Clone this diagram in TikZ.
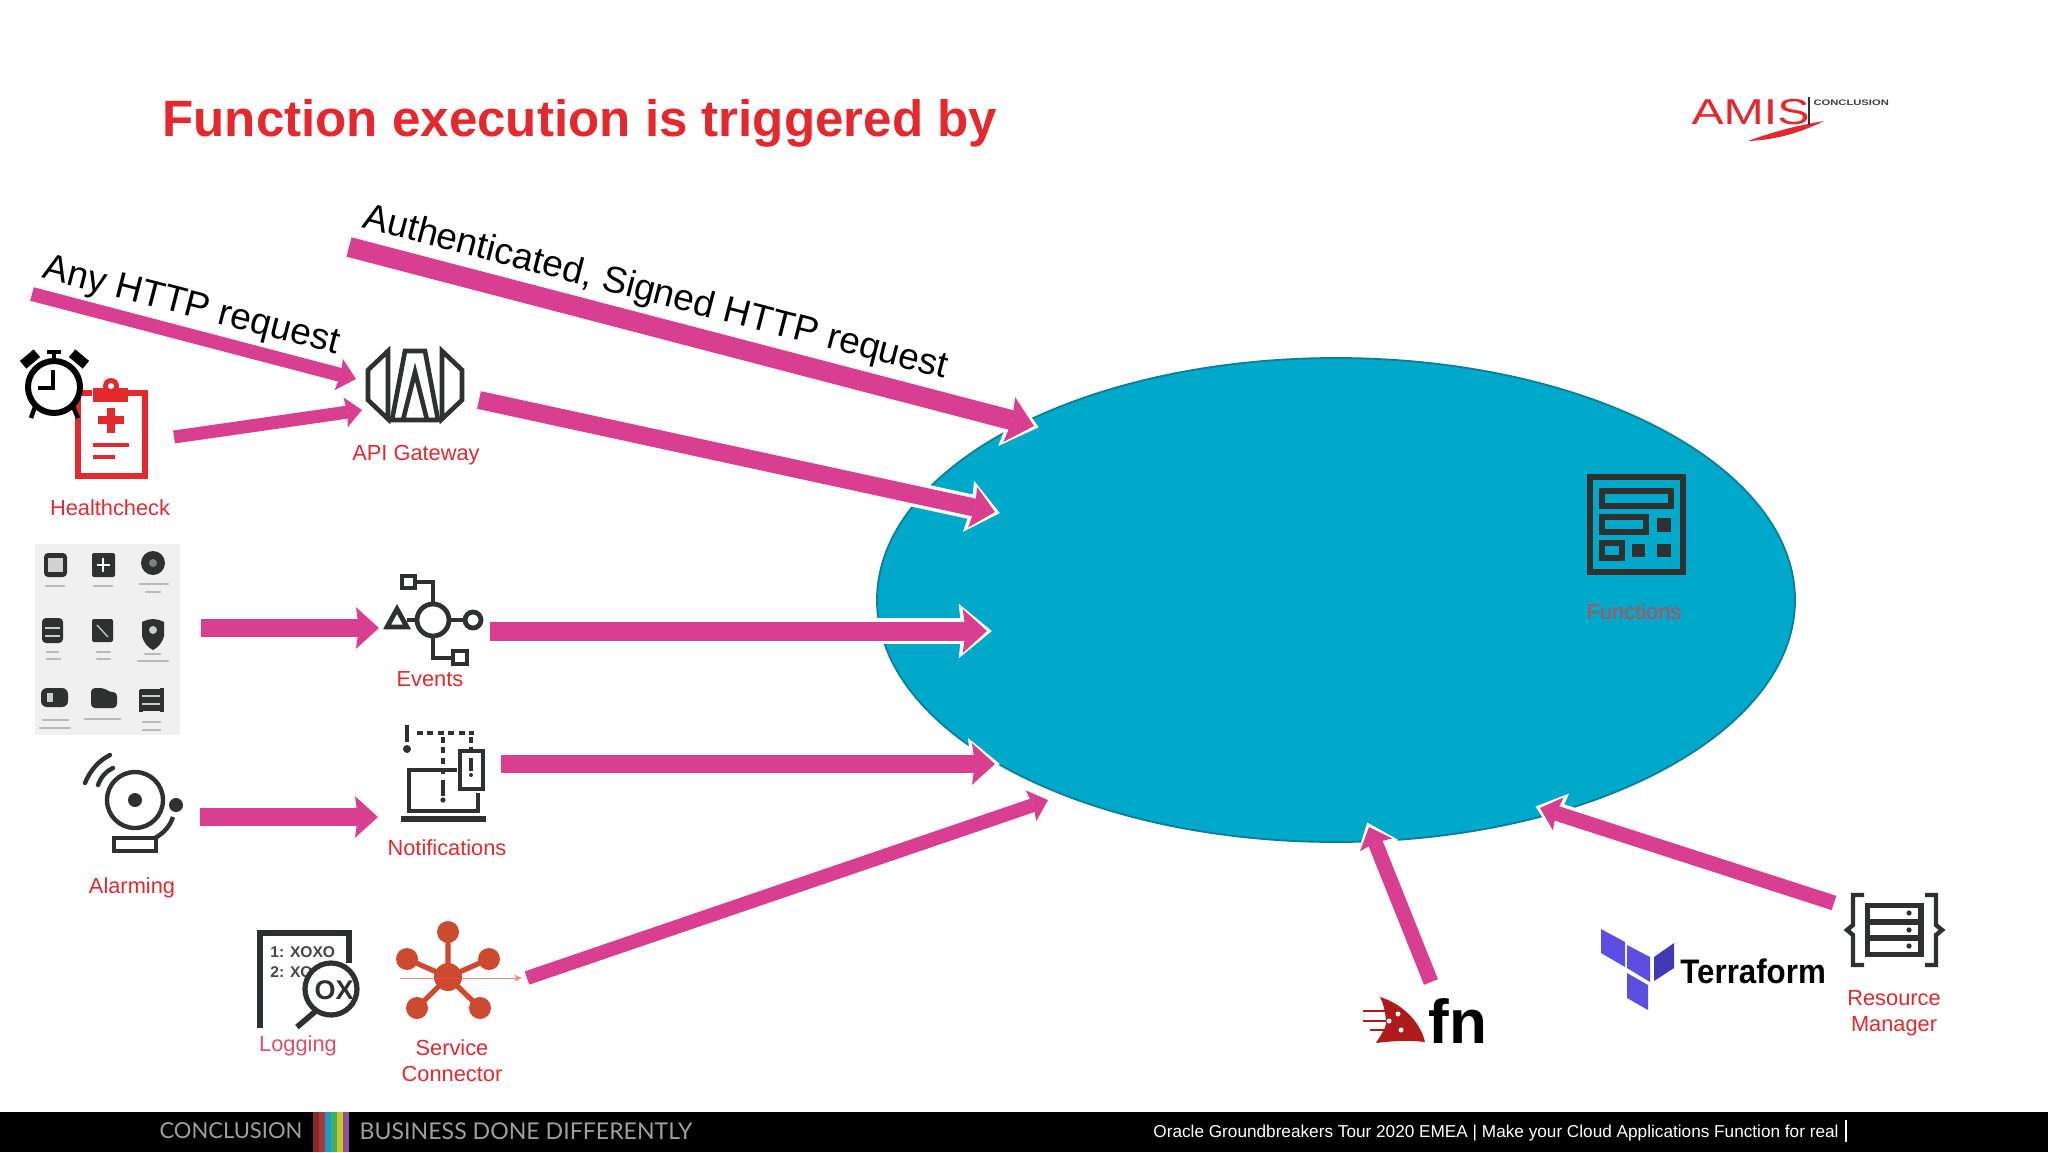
\documentclass[tikz,border=0pt]{standalone}
\usepackage{fontspec}
\setmainfont{Liberation Sans}
\newfontfamily\lato{Lato}
\usetikzlibrary{arrows.meta,shapes.geometric}
\definecolor{pinkc}{HTML}{D93F90}
\definecolor{tealc}{HTML}{00A9C9}
\definecolor{tealb}{HTML}{0A7F96}
\definecolor{redc}{HTML}{E3282E}
\definecolor{darkc}{HTML}{2F3030}
\definecolor{netc}{HTML}{CC4A30}
\definecolor{tfa}{HTML}{5B4EE0}
\definecolor{tfb}{HTML}{4338B8}
\definecolor{fnred}{HTML}{B01A1A}
\definecolor{funclab}{HTML}{C9474F}
\definecolor{loglab}{HTML}{D94F6C}
\definecolor{ba}{HTML}{8A2B2B}
\definecolor{bb}{HTML}{A83A3A}
\definecolor{bc}{HTML}{1E9AC8}
\definecolor{bd}{HTML}{3FB06A}
\definecolor{be}{HTML}{C8C820}
\definecolor{bf}{HTML}{8A4FA0}
\newcommand\conn[3]{% from, to, shaft width in px
 \pgfmathsetmacro\wa{#3*0.5}\pgfmathsetmacro\ll{#3*0.64}\pgfmathsetmacro\ww{#3*1.16}\pgfmathsetmacro\ii{#3*0.08}
 \pgfmathsetmacro\wb{\wa+3.4}\pgfmathsetmacro\lb{\ll+4.4}\pgfmathsetmacro\wwb{\ww+5.2}
 \draw[white,line width=\wb pt,shorten >=-2.4pt,-{Stealth[length=\lb pt,width=\wwb pt,inset=\ii pt,line width=0pt]}] (#1) -- (#2);
 \draw[pinkc,line width=\wa pt,-{Stealth[length=\ll pt,width=\ww pt,inset=\ii pt,line width=0pt]}] (#1) -- (#2);
}
\tikzset{
 lab/.style={text=redc,font=\fontsize{10.9}{13}\selectfont,align=center,inner sep=0pt},
 ic/.style={draw=darkc,line width=2.4pt,line join=miter},
 net/.style={fill=netc,draw=none},
 netl/.style={draw=netc,line width=2.6pt},
 rtxt/.style={text=black,font=\fontsize{18.5}{22}\selectfont,inner sep=0pt,rotate=-14.5,anchor=base},
 smudge/.style={draw=gray!55,line width=1.3pt,line cap=round},
}
\begin{document}
\begin{tikzpicture}[x=0.5pt,y=-0.5pt]
\useasboundingbox (0,0) rectangle (2048,1152);
\fill[white] (0,0) rectangle (2048,1152);

% title
\node[anchor=base west,inner sep=0pt,text=redc,font=\bfseries\fontsize{25.55}{30}\selectfont] (title) at (162,136) {Function execution is triggered by};

% AMIS logo
\node[anchor=base west,inner sep=0pt,text=redc,font=\fontsize{18}{20}\selectfont,xscale=1.34,transform shape] (amis) at (1691,124) {AMIS};
\fill[redc] (1748,141) .. controls (1775,140) and (1800,133) .. (1824,121) .. controls (1800,125) and (1775,131) .. (1748,141) -- cycle;
\draw[darkc,line width=.7pt] (1809,97) -- (1809,125);
\node[anchor=base west,inner sep=0pt,text=black!75,font=\bfseries\fontsize{4}{5}\selectfont,xscale=1.4,transform shape] (amissub) at (1813,105) {CONCLUSION};

% central ellipse
\node[ellipse,draw=tealb,fill=tealc,line width=.9pt,minimum width=459pt,minimum height=242pt,inner sep=0pt] (core) at (1336,600) {};

% Functions icon
\draw[ic,line width=3.2pt] (1590,477) rectangle (1683,572);
\draw[ic,line width=2.8pt] (1602,491) rectangle (1671,506);
\draw[ic,line width=2.8pt] (1602,517) rectangle (1646,532);
\draw[ic,line width=2.8pt] (1602,543) rectangle (1622,558);
\fill[darkc] (1657,518) rectangle (1671,532);
\fill[darkc] (1632,544) rectangle (1645,557);
\fill[darkc] (1657,544) rectangle (1671,557);
\node[lab,text=funclab] (lfunctions) at (1634,612) {Functions};

% clipboard and clock
\draw[redc,line width=2.6pt] (92,393) -- (78,393) -- (78,476) -- (145,476) -- (145,393) -- (128,393);
\fill[redc] (93,388) rectangle (128,402);
\fill[redc] (111,386) circle (8);
\fill[white] (111,386) circle (3);
\fill[redc] (107,408) rectangle (115,433);
\fill[redc] (98,416) rectangle (124,424);
\draw[redc,line width=2.4pt] (93,445) -- (129,445);
\draw[redc,line width=2.4pt] (93,457) -- (115,457);
\fill[black,rotate around={40:(30,359)}] (21,354) rectangle (39,364);
\fill[black,rotate around={-40:(79,359)}] (70,354) rectangle (88,364);
\draw[black,line width=2.4pt] (47,352) -- (61,352) (54,352) -- (54,362);
\draw[black,line width=2.2pt] (36,404) -- (31,418) (72,404) -- (78,418);
\draw[black,fill=white,line width=3pt] (54,387) circle (26);
\draw[black,line width=2.2pt] (53,370) -- (53,388) -- (38,388);

\node[lab] (lhealth) at (110,508) {Healthcheck};

% API gateway icon
\begin{scope}[ic,fill=none,line width=2.3pt]
\draw (388,351) -- (368,370) -- (368,400) -- (388,419) -- cycle;
\draw (442,351) -- (462,370) -- (462,400) -- (442,419) -- cycle;
\draw (392,420) -- (405,351) -- (425,351) -- (438,420) -- cycle;
\draw (403,420) -- (415,372) -- (427,420);
\end{scope}
\node[lab] (lapi) at (416,455) {API Gateway};

% services grid image
\fill[gray!12!white] (35,544) rectangle (180,735);
\fill[darkc,rounded corners=2pt] (44,553) rectangle (67,577);
\fill[gray!35] (48,558) rectangle (63,572);
\fill[darkc,rounded corners=1pt] (92,553) rectangle (115,577);
\draw[white,line width=.7pt] (97,565) -- (110,565) (103,558) -- (103,572);
\fill[darkc] (153,563) circle (12);
\fill[gray] (153,563) circle (4);
\fill[darkc,rounded corners=2pt] (42,618) rectangle (63,643);
\draw[gray!40,line width=1pt] (45,628) -- (60,628) (45,636) -- (60,636);
\fill[darkc,rounded corners=1pt] (92,619) rectangle (113,642);
\draw[gray!50,line width=.7pt] (97,625) -- (108,637);
\fill[darkc] (142,622) .. controls (150,618) and (156,618) .. (164,622) -- (164,636) .. controls (162,644) and (157,648) .. (153,650) .. controls (149,648) and (144,644) .. (142,636) -- cycle;
\fill[gray!40] (153,630) circle (4);
\fill[darkc,rounded corners=3pt] (41,688) rectangle (68,707);
\fill[gray!40] (47,693) rectangle (53,702);
\fill[darkc,rounded corners=2pt] (91,688) -- (105,688) -- (108,692) -- (117,692) -- (117,708) -- (91,708) -- cycle;
\draw[darkc,line width=2pt] (141,690) -- (141,712) (162,688) -- (162,712);
\fill[darkc] (140,689) rectangle (163,711);
\draw[gray!40,line width=1pt] (142,696) -- (160,696) (142,704) -- (160,704);
\draw[smudge] (46,586) -- (64,586) (94,586) -- (112,586) (140,584) -- (168,584) (146,592) -- (160,592);
\draw[smudge] (47,652) -- (58,652) (47,659) -- (60,659) (97,652) -- (110,652) (97,659) -- (110,659) (145,654) -- (160,654) (138,661) -- (168,661);
\draw[smudge] (43,720) -- (68,720) (40,728) -- (70,728) (85,719) -- (120,719) (143,722) -- (160,722) (143,730) -- (160,730);

% Events icon
\begin{scope}[ic,fill=none]
\draw (433,620) circle (16);
\draw (402,576) rectangle (415,588);
\draw (415,582) -- (433,582) -- (433,604);
\draw[line join=miter] (387,627) -- (397,609) -- (407,627) -- cycle;
\draw (407,620) -- (417,620);
\draw (449,620) -- (465,620);
\draw (473,620) circle (8);
\draw (433,636) -- (433,658) -- (453,658);
\draw (453,651) rectangle (467,664);
\end{scope}
\node[lab] (levents) at (430,679) {Events};

% Notifications icon
\begin{scope}[ic,fill=none]
\draw (457,770) -- (409,770) -- (409,811) -- (478,811) -- (478,793);
\draw[line width=2.8pt] (401,819) -- (486,819);
\draw[line width=2pt] (460,751) rectangle (483,789);
\draw[dash pattern=on 3pt off 2.2pt,line width=1.6pt] (417,733) -- (474,733);
\draw[dash pattern=on 3pt off 2.2pt,line width=1.6pt] (443,737) -- (443,776);
\draw[dash pattern=on 3pt off 2.2pt,line width=1.6pt] (471,737) -- (471,750);
\draw[line width=2.4pt] (407,725) -- (407,742);
\draw[line width=2pt] (443,780) -- (443,796);
\draw[line width=1.6pt] (471,758) -- (471,771);
\end{scope}
\fill[darkc] (407,749) circle (4);
\fill[darkc] (443,800) circle (2.6);
\fill[darkc] (471,775) circle (2);
\node[lab] (lnotif) at (447,848) {Notifications};

% Alarming icon
\begin{scope}[ic,fill=none,line width=2.2pt]
\draw (135,800) circle (28);
\draw (173,817) .. controls (170,826) and (164,833) .. (155,838);
\draw (114,838) rectangle (156,851);
\draw[line cap=round] (85,783) .. controls (90,771) and (98,761) .. (110,755);
\draw[line cap=round] (98,785) .. controls (101,777) and (106,771) .. (113,768);
\end{scope}
\fill[darkc] (135,800) circle (7);
\fill[darkc] (176,805) circle (7);
\node[lab] (lalarm) at (132,888) {Alarming};

% Logging icon
\draw[ic,line width=2.6pt] (260,1028) -- (260,933) -- (349,933) -- (349,963);
\node[anchor=base west,inner sep=0pt,text=darkc!90,font=\bfseries\fontsize{7.8}{9}\selectfont] (xoxo) at (270,957) {1: XOXO};
\node[anchor=base west,inner sep=0pt,text=darkc!90,font=\bfseries\fontsize{7.8}{9}\selectfont] (xo) at (270,977) {2: XO};
\draw[ic,fill=white,line width=2.6pt] (331,989) circle (26);
\node[inner sep=0pt,text=darkc,font=\bfseries\fontsize{13.5}{15}\selectfont] (oxtxt) at (334,990) {OX};
\draw[darkc,line width=2.8pt] (317,1010) -- (297,1027);
\node[lab,text=loglab] (llog) at (298,1046) {Logging};

% Service connector icon
\draw[netl] (448,977) -- (448,932) (448,977) -- (407,959) (448,977) -- (489,959) (448,977) -- (417,1008) (448,977) -- (480,1008);
\fill[net] (448,977) circle (14);
\fill[net] (448,932) circle (11);
\fill[net] (407,959) circle (11);
\fill[net] (489,959) circle (11);
\fill[net] (417,1008) circle (11);
\fill[net] (480,1008) circle (11);
\coordinate (scin) at (400,978);
\coordinate (scout) at (522,978);
\draw[red!70!white,opacity=.65,line width=.5pt,-{Stealth[length=4pt,width=3.5pt,line width=0pt]}] (scin) -- (scout);
\node[lab] (lsvc) at (452,1061) {Service\\Connector};

% Terraform
\fill[tfa] (1601,929) -- (1625,942) -- (1625,967) -- (1601,953) -- cycle;
\fill[tfa] (1627,945) -- (1650,957) -- (1650,982) -- (1627,968) -- cycle;
\fill[tfb] (1654,957) -- (1674,943) -- (1674,968) -- (1654,981) -- cycle;
\fill[tfa] (1627,973) -- (1648,985) -- (1648,1010) -- (1627,998) -- cycle;
\node[anchor=base west,inner sep=0pt,text=black,font=\bfseries\fontsize{17}{20}\selectfont,xscale=.92,transform shape] (tfname) at (1680,983) {Terraform};

% fn logo
\fill[fnred] (1380,997) .. controls (1400,1003) and (1420,1020) .. (1425,1042) .. controls (1408,1040) and (1392,1041) .. (1376,1043) .. controls (1380,1036) and (1385,1030) .. (1386,1024) .. controls (1386,1015) and (1384,1005) .. (1380,997) -- cycle;
\draw[fnred,line width=.6pt] (1363,1011) -- (1396,1011) (1363,1021) -- (1388,1021) (1370,1030) -- (1400,1030);
\fill[white] (1398,1014) circle (2.5) (1389,1021) circle (2.5) (1401,1030) circle (2.5);
\node[anchor=base west,inner sep=0pt,text=black,font=\bfseries\fontsize{31}{34}\selectfont] (fnname) at (1428,1043) {fn};

% Resource Manager icon
\fill[darkc] (1865,903) rectangle (1924,957);
\fill[white] (1870,908) rectangle (1918,919);
\fill[white] (1870,925) rectangle (1918,935);
\fill[white] (1870,941) rectangle (1918,952);
\fill[darkc] (1909,913) circle (2.6) (1909,930) circle (2.6) (1909,946) circle (2.6);
\draw[ic,line width=2.2pt] (1864,895) -- (1853,895) -- (1853,925) -- (1847,930) -- (1853,935) -- (1853,965) -- (1864,965);
\draw[ic,line width=2.2pt] (1925,895) -- (1936,895) -- (1936,925) -- (1942,930) -- (1936,935) -- (1936,965) -- (1925,965);
\node[lab] (lrm) at (1894,1013) {Resource\\Manager};

% connectors
\coordinate (anyS) at (32,294);    \coordinate (apiA) at (356,379);
\coordinate (authS) at (349,247);  \coordinate (coreA) at (1034,426);
\coordinate (hcS) at (174,437);    \coordinate (apiB) at (362,410);
\coordinate (apiS) at (479,400);   \coordinate (coreB) at (995,512);
\coordinate (svcS) at (201,628);   \coordinate (evA) at (379,628);
\coordinate (evS) at (490,631);    \coordinate (coreC) at (987,631);
\coordinate (ntS) at (501,764);    \coordinate (coreD) at (995,764);
\coordinate (alS) at (200,817);    \coordinate (ntA) at (378,817);
\coordinate (scS) at (527,978);    \coordinate (coreE) at (1048,800);
\coordinate (fnS) at (1431,982);   \coordinate (coreF) at (1369,827);
\coordinate (rmS) at (1834,903);   \coordinate (coreG) at (1540,808);
\conn{anyS}{apiA}{14}
\conn{authS}{coreA}{20}
\conn{hcS}{apiB}{13}
\conn{apiS}{coreB}{18}
\conn{svcS}{evA}{18}
\conn{evS}{coreC}{19}
\conn{ntS}{coreD}{18}
\conn{alS}{ntA}{18}
\conn{scS}{coreE}{14}
\conn{fnS}{coreF}{15}
\conn{rmS}{coreG}{15}

% rotated labels
\node[rtxt] (lany) at (189,316) {Any HTTP request};
\node[rtxt] (lauth) at (653,303) {Authenticated, Signed HTTP request};

% footer
\fill[black] (0,1112) rectangle (2048,1152);
\node[inner sep=0pt,text=gray!75,font=\lato\fontsize{11}{12}\selectfont] (fconc) at (231,1131) {CONCLUSION};
\foreach \x/\c in {313/ba,319/bb,325/bc,331/bd,337/be,343/bf}
  \fill[\c] (\x,1112) rectangle ++(6,40);
\node[inner sep=0pt,text=gray!75,font=\lato\fontsize{11.55}{12}\selectfont] (fbus) at (526,1131) {BUSINESS DONE DIFFERENTLY};
\node[anchor=base west,inner sep=0pt,text=white,font=\fontsize{8.6}{10}\selectfont] (fora) at (1153,1137) {Oracle Groundbreakers Tour 2020 EMEA | Make your Cloud Applications Function for real};
\draw[white,line width=.8pt] (1846,1120) -- (1846,1142);
\end{tikzpicture}
\end{document}
